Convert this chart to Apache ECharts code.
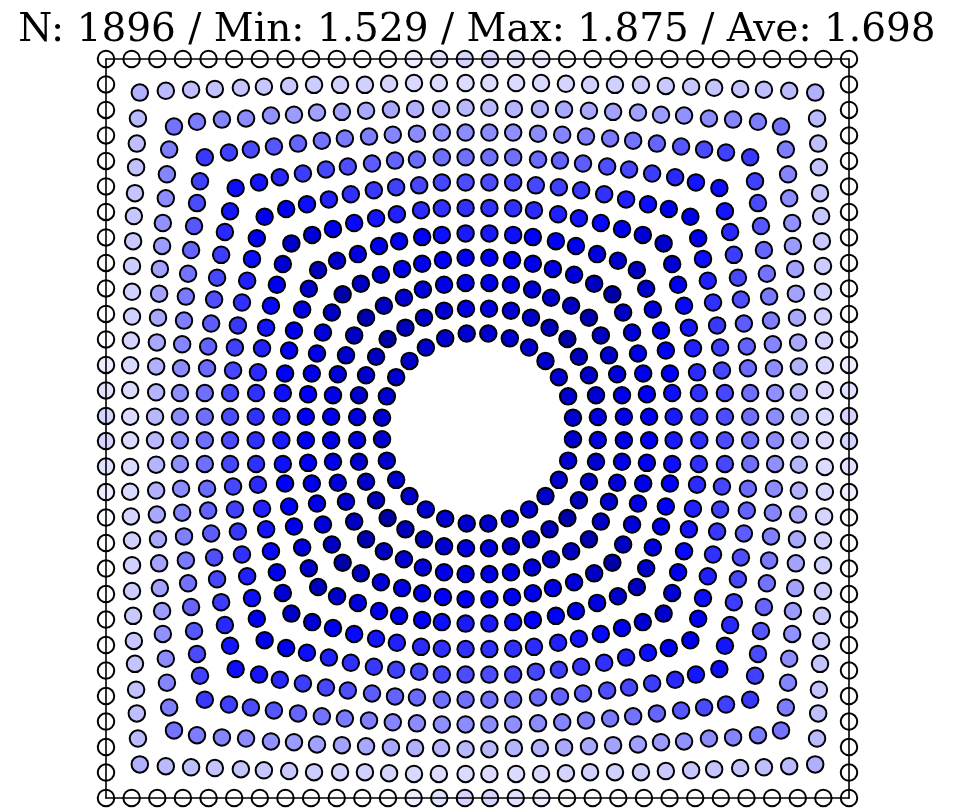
<!DOCTYPE html>
<html><head><meta charset="utf-8">
<script src="https://cdn.jsdelivr.net/npm/echarts@6/dist/echarts.min.js"></script>
<style>html,body{margin:0;padding:0;background:#fff}#c{width:954px;height:810px}</style>
</head><body><div id="c"></div>
<script>
const titleText = 'N: 1896 / Min: 1.529 / Max: 1.875 / Ave: 1.698';

// One octant of every ring of nodes:
// [distance from the centre line, offset along the side], square domain = [-1, 1].
// The last entry of each ring is its corner (diagonal) node.
const ring0 = [[0.257,0.029],[0.244,0.087],[0.219,0.139],[0.183,0.183]];
const ring1 = [[0.324,0.031],[0.319,0.090],[0.300,0.144],[0.273,0.194],[0.242,0.242]];
const ring2 = [[0.394,0.032],[0.389,0.090],[0.376,0.147],[0.354,0.198],[0.332,0.252],[0.300,0.300]];
const ring3 = [[0.462,0.032],[0.456,0.093],[0.446,0.149],[0.432,0.203],[0.416,0.260],[0.392,0.314],[0.363,0.363]];
const ring4 = [[0.528,0.032],[0.524,0.096],[0.518,0.149],[0.507,0.211],[0.494,0.265],[0.472,0.322],[0.454,0.378],[0.429,0.429]];
const ring5 = [[0.597,0.032],[0.596,0.096],[0.591,0.152],[0.580,0.217],[0.569,0.273],[0.556,0.332],[0.540,0.389],[0.524,0.445],[0.501,0.501]];
const ring6 = [[0.666,0.032],[0.666,0.096],[0.658,0.157],[0.653,0.219],[0.645,0.279],[0.634,0.341],[0.620,0.400],[0.607,0.459],[0.594,0.515],[0.573,0.573]];
const ring7 = [[0.734,0.032],[0.734,0.096],[0.728,0.163],[0.725,0.222],[0.717,0.284],[0.709,0.349],[0.701,0.408],[0.690,0.470],[0.680,0.532],[0.666,0.588],[0.651,0.651]];
const ring8 = [[0.801,0.032],[0.801,0.096],[0.798,0.163],[0.795,0.228],[0.790,0.292],[0.785,0.357],[0.779,0.419],[0.771,0.483],[0.763,0.548],[0.755,0.610],[0.747,0.669],[0.734,0.734]];
const ring9 = [[0.868,0.032],[0.865,0.098],[0.865,0.168],[0.863,0.233],[0.860,0.300],[0.857,0.365],[0.855,0.432],[0.849,0.494],[0.847,0.556],[0.839,0.623],[0.836,0.688],[0.830,0.755],[0.817,0.817]];
const ring10 = [[0.935,0.032],[0.935,0.104],[0.935,0.171],[0.933,0.238],[0.930,0.303],[0.930,0.370],[0.930,0.440],[0.927,0.507],[0.925,0.575],[0.922,0.637],[0.919,0.707],[0.917,0.771],[0.914,0.839],[0.909,0.909]];
const ring11 = [[1,0.034],[1,0.103],[1,0.172],[1,0.241],[1,0.310],[1,0.379],[1,0.448],[1,0.517],[1,0.586],[1,0.655],[1,0.724],[1,0.793],[1,0.862],[1,0.931],[1,1]];

// Shade of each node (0 = white, 1 = blue, 2 = dark blue), same order as the rings.
const shade0 = [1.45,1.45,1.45,1.5];
const shade1 = [1.3,1.45,1.5,1.65,1.85];
const shade2 = [1.2,1.2,1.35,1.45,1.6,1.75];
const shade3 = [1.05,1.05,1.15,1.2,1.35,1.6,1.85];
const shade4 = [0.9,0.94,1.0,1.02,1.15,1.3,1.5,1.65];
const shade5 = [0.81,0.81,0.83,0.87,0.92,0.97,1.15,1.42,1.5];
const shade6 = [0.7,0.72,0.72,0.75,0.78,0.81,0.87,0.95,1.15,1.2];
const shade7 = [0.56,0.56,0.58,0.61,0.64,0.69,0.72,0.76,0.84,0.92,0.95];
const shade8 = [0.45,0.44,0.45,0.48,0.5,0.52,0.55,0.6,0.66,0.71,0.75,0.78];
const shade9 = [0.28,0.29,0.31,0.34,0.34,0.36,0.37,0.39,0.43,0.45,0.48,0.51,0.55];
const shade10 = [0.14,0.14,0.15,0.17,0.18,0.18,0.2,0.21,0.22,0.23,0.24,0.25,0.27,0.31];
const shade11 = [0.17,0.12,0.07,0.02,0,0,0,0,0,0,0,0,0,0,0];

const shadeColors = ['#ffffff', '#0000ff', '#000099'];

const rings = [ring0,ring1,ring2,ring3,ring4,ring5,ring6,ring7,ring8,ring9,ring10,ring11];
const shades = [shade0,shade1,shade2,shade3,shade4,shade5,shade6,shade7,shade8,shade9,shade10,shade11];

// the mesh is symmetric about both axes and both diagonals
function mirror(pts, vals) {
  const out = [];
  pts.forEach(([a, b], i) => {
    const seen = new Set();
    [[a,b],[-a,b],[a,-b],[-a,-b],[b,a],[-b,a],[b,-a],[-b,-a]].forEach(([x, y]) => {
      const k = x + ',' + y;
      if (!seen.has(k)) { seen.add(k); out.push([x, y, vals[i]]); }
    });
  });
  return out;
}
let nodes = [];
rings.forEach((r, i) => { nodes = nodes.concat(mirror(r, shades[i])); });

const frameAxis = (pos) => ({
  type: 'value', min: -1, max: 1, position: pos, z: 10,
  axisLine: { show: true, onZero: false, lineStyle: { color: '#000', width: 1.6 } },
  axisTick: { show: false }, axisLabel: { show: false }, splitLine: { show: false }
});

const chart = echarts.init(document.getElementById('c'), null, { renderer: 'canvas' });
chart.setOption({
  animation: false,
  title: {
    text: titleText, left: 'center', top: 6,
    textStyle: { fontFamily: 'DejaVu Serif', fontSize: 39, fontWeight: 'normal', color: '#000' }
  },
  grid: { left: 106, right: 105, top: 59, bottom: 12, outerBoundsMode: 'none' },
  xAxis: [frameAxis('bottom'), frameAxis('top')],
  yAxis: [frameAxis('left'), frameAxis('right')],
  visualMap: { show: false, type: 'continuous', dimension: 2, min: 0, max: 2, seriesIndex: 0,
    inRange: { color: shadeColors } },
  series: [{
    type: 'scatter', data: nodes, symbol: 'circle', symbolSize: 16.5,
    itemStyle: { borderColor: '#000', borderWidth: 2, opacity: 1 },
    emphasis: { disabled: true }
  }]
});
</script></body></html>
